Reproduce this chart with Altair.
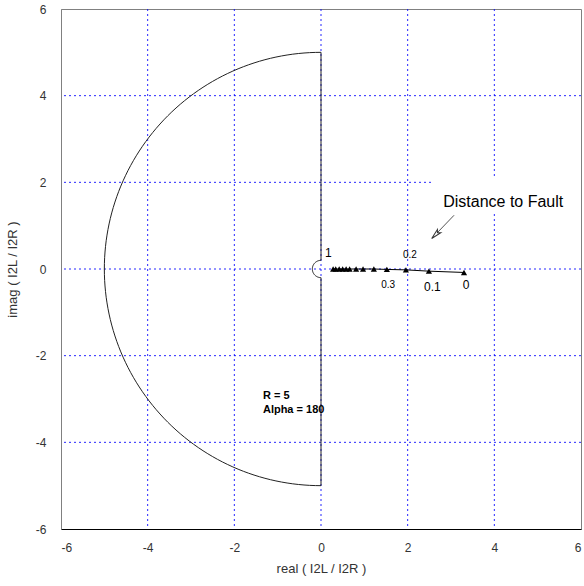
import altair as alt
import pandas as pd
import numpy as np

# ---- chart parameters / data ----
R_OUTER = 5.0          # restraint radius R
ALPHA = 180            # restraint angle alpha (deg)

# trajectory of I2L/I2R as distance to fault varies
traj_re = [3.30, 2.49, 1.96, 1.52, 1.22, 0.97, 0.81, 0.66, 0.58, 0.50, 0.42, 0.34, 0.28]
traj_im = [-0.08, -0.05, -0.02, -0.01, 0.0, 0.0, 0.0, 0.0, 0.0, 0.0, 0.0, 0.0, 0.0]

# point labels
lbl_text = ["0", "0.1", "0.2", "0.3", "1"]
lbl_x = [3.35, 2.57, 2.05, 1.55, 0.17]
lbl_y = [-0.38, -0.42, 0.33, -0.36, 0.36]
lbl_size = [12, 12, 10, 10, 12]

# annotation
note_text = ["Distance to Fault"]
note_x = [2.82]
note_y = [1.55]
info_text = ["R = 5", "Alpha = 180"]
info_x = [-1.34, -1.34]
info_y = [-2.93, -3.26]

arrow_x = [3.07, 2.58]
arrow_y = [1.24, 0.73]

box_x = [2.58]
box_x2 = [6.0]
box_y = [1.3]
box_y2 = [2.1]

ticks = [-6, -4, -2, 0, 2, 4, 6]
grid_vals = [-4, -2, 0, 2, 4]

# ---- restraint boundary (alpha plane): radii R and 1/R, angle span alpha ----
r_in = 1.0 / R_OUTER
a0, a1 = 180 - ALPHA / 2, 180 + ALPHA / 2
th_out = np.radians(np.linspace(a0, a1, 121))
th_in = np.radians(np.linspace(a1, a0, 41))
bx = list(R_OUTER * np.cos(th_out)) + list(r_in * np.cos(th_in)) + [R_OUTER * np.cos(np.radians(a0))]
by = list(R_OUTER * np.sin(th_out)) + list(r_in * np.sin(th_in)) + [R_OUTER * np.sin(np.radians(a0))]
boundary = pd.DataFrame({"x": bx, "y": by, "i": range(len(bx))})

traj = pd.DataFrame({"x": traj_re, "y": traj_im, "i": range(len(traj_re))})
labels = pd.DataFrame({"x": lbl_x, "y": lbl_y, "t": lbl_text, "s": lbl_size})
note = pd.DataFrame({"x": note_x, "y": note_y, "t": note_text})
info = pd.DataFrame({"x": info_x, "y": info_y, "t": info_text})
arrow = pd.DataFrame({"x": arrow_x, "y": arrow_y, "i": [0, 1]})
head = pd.DataFrame({"x": [arrow_x[1] + 0.06], "y": [arrow_y[1] + 0.06]})
box = pd.DataFrame({"x": box_x, "x2": box_x2, "y": box_y, "y2": box_y2})

xs = alt.Scale(domain=[-6, 6], nice=False, zero=False)
ys = alt.Scale(domain=[-6, 6], nice=False, zero=False)

X = alt.X("x:Q", scale=xs, axis=alt.Axis(
    values=ticks, title="real ( I2L / I2R )", ticks=False, domainColor="#000000",
    labelPadding=13, titlePadding=9, grid=False, labelExpr="toString(datum.value)"))
Y = alt.Y("y:Q", scale=ys, axis=alt.Axis(
    values=ticks, title="imag ( I2L / I2R )", ticks=False, domainColor="#808080",
    labelPadding=15, titleAngle=-90, titleX=-49, titleY=260, titleAlign="center",
    titleBaseline="middle", grid=False, labelExpr="toString(datum.value)"))

grid_df = pd.DataFrame({"v": grid_vals})
grid_v = alt.Chart(grid_df).mark_rule(color="#0000ff", strokeDash=[2, 3], strokeWidth=1, opacity=0.85).encode(
    x=alt.X("v:Q", scale=xs))
grid_h = alt.Chart(grid_df).mark_rule(color="#0000ff", strokeDash=[2, 3], strokeWidth=1, opacity=0.85).encode(
    y=alt.Y("v:Q", scale=ys))

base_axes = alt.Chart(traj).mark_point(opacity=0).encode(x=X, y=Y)

white_box = alt.Chart(box).mark_rect(color="white").encode(
    x=alt.X("x:Q", scale=xs), x2="x2:Q", y=alt.Y("y:Q", scale=ys), y2="y2:Q")

bnd = alt.Chart(boundary).mark_line(color="#222222", strokeWidth=1).encode(
    x=alt.X("x:Q", scale=xs), y=alt.Y("y:Q", scale=ys), order="i:Q")

tline = alt.Chart(traj).mark_line(color="black", strokeWidth=1).encode(
    x=alt.X("x:Q", scale=xs), y=alt.Y("y:Q", scale=ys), order="i:Q")
tpts = alt.Chart(traj).mark_point(shape="triangle-up", filled=True, color="black", size=38, opacity=1).encode(
    x=alt.X("x:Q", scale=xs), y=alt.Y("y:Q", scale=ys))

lbl = alt.Chart(labels).mark_text(font="Liberation Sans", color="black", align="center", baseline="middle").encode(
    x=alt.X("x:Q", scale=xs), y=alt.Y("y:Q", scale=ys), text="t:N",
    size=alt.Size("s:Q", scale=None, legend=None))

note_t = alt.Chart(note).mark_text(font="Liberation Sans", fontSize=16, color="black", align="left",
                                   baseline="middle").encode(
    x=alt.X("x:Q", scale=xs), y=alt.Y("y:Q", scale=ys), text="t:N")

info_t = alt.Chart(info).mark_text(font="Liberation Sans", fontSize=11, fontWeight="bold", color="black",
                                   align="left", baseline="middle").encode(
    x=alt.X("x:Q", scale=xs), y=alt.Y("y:Q", scale=ys), text="t:N")

arr = alt.Chart(arrow).mark_line(color="#555555", strokeWidth=1).encode(
    x=alt.X("x:Q", scale=xs), y=alt.Y("y:Q", scale=ys), order="i:Q")
arr_head = alt.Chart(head).mark_point(
    shape="M0,-1 L0.45,1 L0,0.55 L-0.45,1 Z", filled=True, fill="white", stroke="#333333",
    strokeWidth=1, size=110, angle=225, opacity=1).encode(
    x=alt.X("x:Q", scale=xs), y=alt.Y("y:Q", scale=ys))

chart = alt.layer(
    base_axes, grid_v, grid_h, white_box, bnd, tline, tpts, lbl, note_t, info_t, arr, arr_head
).properties(
    width=520, height=520,
    padding={"left": 61, "top": 9, "right": 3, "bottom": 57},
    autosize=alt.AutoSizeParams(type="none"),
    background="white",
).configure_view(
    stroke="#808080", strokeWidth=1
).configure_axis(
    labelFont="Liberation Sans", labelFontSize=12, labelColor="#333333",
    titleFont="Liberation Sans", titleFontSize=13, titleFontWeight="normal", titleColor="#333333",
    domainWidth=1,
)

chart.save("out.html", embed_options={"renderer": "svg", "actions": False})
